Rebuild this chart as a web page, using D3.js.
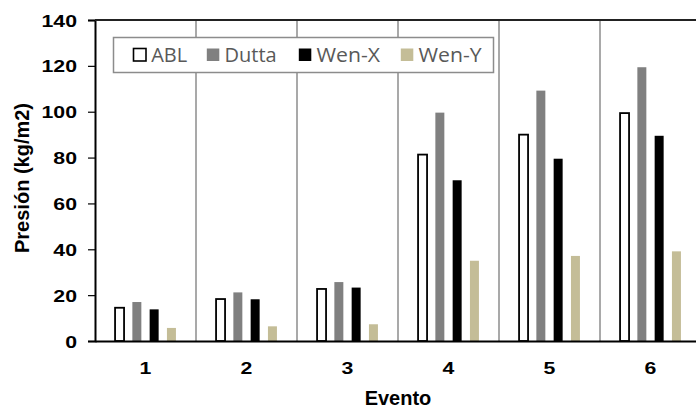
<!DOCTYPE html>
<html>
<head>
<meta charset="utf-8">
<script src="https://cdn.jsdelivr.net/npm/d3@7"></script>
<style>
  html, body { margin: 0; padding: 0; background: #fff; }
  svg { display: block; }
</style>
</head>
<body>
<svg id="chart" width="696" height="408"></svg>
<script>
// ---- data ----
const categories = ["1", "2", "3", "4", "5", "6"];
const seriesNames = ["ABL", "Dutta", "Wen-X", "Wen-Y"];
const ablValues   = [14.5, 18.3, 22.7, 81.3, 90.0, 99.4];
const duttaValues = [17.0, 21.2, 25.7, 99.6, 109.2, 119.4];
const wenXValues  = [13.8, 18.2, 23.3, 70.1, 79.5, 89.5];
const wenYValues  = [5.7, 6.4, 7.3, 35.0, 37.1, 39.1];
const yTickValues = [0, 20, 40, 60, 80, 100, 120, 140];
const xTitle = "Evento";
const yTitle = "Presión (kg/m2)";

const seriesValues = { "ABL": ablValues, "Dutta": duttaValues, "Wen-X": wenXValues, "Wen-Y": wenYValues };
const fills   = { "ABL": "#ffffff", "Dutta": "#808080", "Wen-X": "#000000", "Wen-Y": "#c4bd97" };
const strokes = { "ABL": "#000000", "Dutta": "none", "Wen-X": "none", "Wen-Y": "none" };

// ---- layout ----
const pLeft = 95, pRight = 701, pTop = 20, pBottom = 341;
const legendX = [132.7, 206, 298, 400];
const svg = d3.select("#chart");

const x0 = d3.scaleBand().domain(categories).range([pLeft, pRight]).padding(0);
const x1 = d3.scaleBand().domain(seriesNames).range([0, x0.bandwidth()])
  .paddingInner(0.48).paddingOuter(1.16);
const y = d3.scaleLinear().domain([0, 140]).range([pBottom, pTop]);

const tickFont = "'Liberation Sans', Arial, sans-serif";
function stretch(sel, k) {
  sel.each(function () {
    const w = this.getComputedTextLength();
    this.setAttribute("textLength", w * k);
    this.setAttribute("lengthAdjust", "spacingAndGlyphs");
  });
}

// vertical gridlines between categories
svg.append("g").selectAll("line")
  .data(categories.slice(1))
  .join("line")
  .attr("x1", d => x0(d)).attr("x2", d => x0(d))
  .attr("y1", pTop).attr("y2", pBottom)
  .attr("stroke", "#8c8c8c").attr("stroke-width", 1.5);

// bars
const rows = categories.map((c, i) => ({ cat: c, vals: seriesNames.map(s => ({ s, v: seriesValues[s][i] })) }));
const groups = svg.append("g").selectAll("g")
  .data(rows).join("g")
  .attr("transform", d => `translate(${x0(d.cat)},0)`);
groups.selectAll("rect")
  .data(d => d.vals).join("rect")
  .attr("x", d => x1(d.s))
  .attr("width", x1.bandwidth())
  .attr("y", d => y(d.v))
  .attr("height", d => y(0) - y(d.v))
  .attr("fill", d => fills[d.s])
  .attr("stroke", d => strokes[d.s])
  .attr("stroke-width", 1.8);

// legend
const lg = svg.append("g");
lg.append("rect")
  .attr("x", 113.5).attr("y", 37.5).attr("width", 380).attr("height", 35)
  .attr("fill", "#fff").attr("stroke", "#8c8c8c").attr("stroke-width", 1.5);
seriesNames.forEach((s, i) => {
  const lx = legendX[i];
  lg.append("rect")
    .attr("x", lx + 0.8).attr("y", 48.5).attr("width", 12.5).attr("height", 12.5)
    .attr("fill", fills[s]).attr("stroke", strokes[s]).attr("stroke-width", 1.6);
  lg.append("text")
    .attr("x", lx + 18.5).attr("y", 61.7)
    .attr("font-family", "'Open Sans', sans-serif")
    .attr("font-size", 20).attr("fill", "#595959")
    .text(s)
    .call(stretch, i >= 2 ? 1.06 : 1.0);
});

// y axis
const yAxis = svg.append("g")
  .attr("transform", `translate(${pLeft},0)`)
  .call(d3.axisLeft(y).tickValues(yTickValues).tickSize(7).tickPadding(11).tickFormat(d3.format("d")));
yAxis.select(".domain").attr("stroke", "#000").attr("stroke-width", 2);
yAxis.selectAll(".tick line").attr("stroke", "#000").attr("stroke-width", 1.2);
yAxis.selectAll(".tick text")
  .attr("font-family", tickFont).attr("font-weight", "bold").attr("font-size", 17)
  .attr("fill", "#000").attr("dy", "0.36em")
  .call(stretch, 1.25);

// top border
svg.append("line")
  .attr("x1", pLeft).attr("x2", 696).attr("y1", pTop).attr("y2", pTop)
  .attr("stroke", "#222").attr("stroke-width", 1.8);

// x axis
const xAxis = svg.append("g")
  .attr("transform", `translate(0,${pBottom})`)
  .call(d3.axisBottom(x0).tickSize(0).tickPadding(20.5));
xAxis.select(".domain").attr("stroke", "#000").attr("stroke-width", 2);
xAxis.selectAll(".tick text")
  .attr("font-family", tickFont).attr("font-weight", "bold").attr("font-size", 17)
  .attr("fill", "#000").attr("dy", "0.71em")
  .call(stretch, 1.25);

// titles
svg.append("text")
  .attr("x", (pLeft + pRight) / 2).attr("y", 405.3)
  .attr("text-anchor", "middle")
  .attr("font-family", tickFont).attr("font-weight", "bold").attr("font-size", 20)
  .attr("fill", "#000").text(xTitle);

svg.append("text")
  .attr("transform", "translate(29.3,178) rotate(-90)")
  .attr("text-anchor", "middle")
  .attr("font-family", tickFont).attr("font-weight", "bold").attr("font-size", 20)
  .attr("fill", "#000").text(yTitle);
</script>
</body>
</html>
